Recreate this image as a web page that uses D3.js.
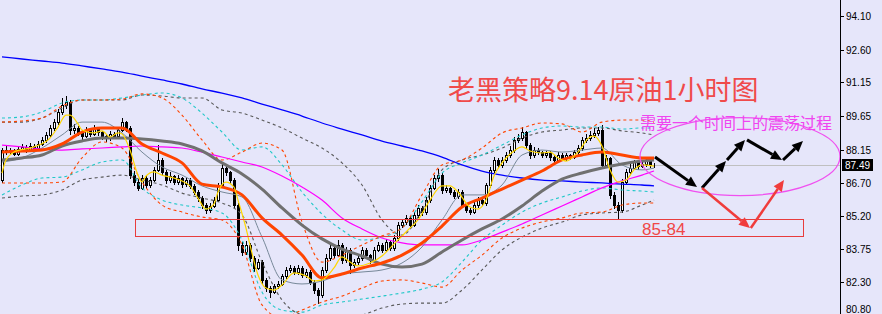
<!DOCTYPE html>
<html>
<head>
<meta charset="utf-8">
<script src="https://cdn.jsdelivr.net/npm/d3@7"></script>
<style>
  body { margin: 0; background: #e6e6fa; }
  svg { display: block; }
</style>
</head>
<body>
<div id="chart"></div>
<script>
// ---- price axis ----
const tickLabels = [94.10, 92.60, 91.15, 89.65, 88.15, 86.70, 85.20, 83.75, 82.30, 80.80];
const lastPrice = 87.49;

// ---- hourly candles [open, high, low, close] ----
const candles = [
  [86.81, 88.23, 86.72, 88.14], [88.14, 88.30, 87.96, 88.05], [88.05, 88.25, 87.98, 88.14], [88.14, 88.20, 87.90, 87.97],
  [87.97, 88.28, 87.92, 88.19], [88.19, 88.40, 88.12, 88.28], [88.28, 88.36, 88.05, 88.14], [88.14, 88.45, 88.10, 88.32],
  [88.32, 88.40, 88.15, 88.23], [88.23, 88.55, 88.18, 88.41], [88.41, 88.70, 88.36, 88.59], [88.59, 88.92, 88.50, 88.81],
  [88.81, 89.25, 88.75, 89.12], [89.12, 89.50, 89.02, 89.39], [89.39, 89.95, 89.30, 89.83], [89.83, 90.45, 89.75, 90.14],
  [90.14, 90.54, 90.02, 90.27], [90.27, 90.35, 88.86, 89.03], [89.03, 89.30, 88.90, 89.12], [89.12, 89.20, 88.80, 88.94],
  [88.94, 89.05, 88.65, 88.76], [88.76, 89.15, 88.70, 89.03], [89.03, 89.10, 88.75, 88.86], [88.86, 89.25, 88.80, 89.12],
  [89.12, 89.18, 88.82, 88.94], [88.94, 89.00, 88.62, 88.76], [88.76, 88.85, 88.55, 88.68], [88.68, 88.98, 88.60, 88.86],
  [88.86, 88.92, 88.66, 88.76], [88.76, 89.12, 88.70, 89.03], [89.03, 89.57, 88.98, 89.39], [89.39, 89.45, 89.00, 89.12],
  [89.12, 89.20, 86.90, 87.04], [87.04, 87.20, 86.60, 86.72], [86.72, 86.85, 86.35, 86.46], [86.46, 87.05, 86.40, 86.90],
  [86.90, 86.98, 86.45, 86.59], [86.59, 86.95, 86.50, 86.81], [86.81, 87.40, 86.75, 87.26], [87.26, 88.37, 87.20, 87.70],
  [87.70, 87.80, 87.05, 87.17], [87.17, 87.25, 86.70, 86.81], [86.81, 87.15, 86.72, 86.99], [86.99, 87.05, 86.62, 86.72],
  [86.72, 87.02, 86.65, 86.90], [86.90, 86.95, 86.52, 86.63], [86.63, 86.92, 86.55, 86.81], [86.81, 86.88, 86.45, 86.55],
  [86.55, 86.62, 86.18, 86.28], [86.28, 86.35, 85.90, 86.01], [86.01, 86.10, 85.58, 85.70], [85.70, 85.80, 85.35, 85.48],
  [85.48, 85.80, 85.40, 85.66], [85.66, 86.05, 85.60, 85.93], [85.93, 86.70, 85.88, 86.59], [86.59, 87.50, 86.50, 87.35],
  [87.35, 87.42, 87.02, 87.17], [87.17, 87.22, 86.70, 86.81], [86.81, 86.90, 85.60, 85.70], [85.70, 85.78, 83.71, 83.93],
  [83.93, 84.05, 83.50, 83.62], [83.62, 84.10, 83.55, 83.93], [83.93, 84.00, 83.22, 83.35], [83.35, 83.42, 82.78, 82.91],
  [82.91, 83.30, 82.85, 83.18], [83.18, 83.25, 82.25, 82.38], [82.38, 82.45, 81.90, 82.02], [82.02, 82.10, 81.62, 81.84],
  [81.84, 82.22, 81.78, 82.11], [82.11, 82.35, 82.02, 82.20], [82.20, 82.66, 82.15, 82.55], [82.55, 82.95, 82.48, 82.82],
  [82.82, 83.05, 82.75, 82.91], [82.91, 83.00, 82.62, 82.73], [82.73, 83.05, 82.66, 82.91], [82.91, 82.98, 82.50, 82.60],
  [82.60, 82.85, 82.52, 82.73], [82.73, 82.80, 82.18, 82.29], [82.29, 82.36, 81.80, 81.93], [81.93, 82.00, 81.35, 81.71],
  [81.71, 82.95, 81.62, 82.82], [82.82, 83.55, 82.75, 83.35], [83.35, 84.05, 83.28, 83.79], [83.79, 83.90, 83.38, 83.49],
  [83.49, 84.15, 83.42, 83.93], [83.93, 84.00, 83.12, 83.26], [83.26, 83.85, 83.18, 83.71], [83.71, 83.78, 82.70, 83.04],
  [83.04, 83.30, 82.95, 83.18], [83.18, 83.50, 83.10, 83.35], [83.35, 83.85, 83.28, 83.71], [83.71, 83.80, 83.40, 83.49],
  [83.49, 83.55, 83.15, 83.26], [83.26, 83.82, 83.20, 83.71], [83.71, 84.05, 83.65, 83.93], [83.93, 84.00, 83.60, 83.71],
  [83.71, 84.20, 83.65, 84.06], [84.06, 84.12, 83.70, 83.79], [83.79, 84.38, 83.72, 84.24], [84.24, 84.95, 84.15, 84.82],
  [84.82, 85.10, 84.72, 84.95], [84.95, 85.28, 84.88, 85.13], [85.13, 85.20, 84.70, 84.82], [84.82, 85.40, 84.75, 85.26],
  [85.26, 85.70, 85.18, 85.57], [85.57, 85.65, 85.28, 85.39], [85.39, 86.05, 85.32, 85.93], [85.93, 86.60, 85.85, 86.46],
  [86.46, 87.04, 86.40, 86.90], [86.90, 87.30, 86.75, 87.04], [87.04, 87.10, 86.25, 86.37], [86.37, 86.58, 86.30, 86.46],
  [86.46, 86.52, 86.18, 86.28], [86.28, 86.35, 86.00, 86.10], [86.10, 86.40, 86.02, 86.28], [86.28, 86.35, 85.60, 85.70],
  [85.70, 85.78, 85.38, 85.48], [85.48, 85.58, 85.30, 85.39], [85.39, 85.82, 85.33, 85.70], [85.70, 86.05, 85.62, 85.93],
  [85.93, 86.00, 85.70, 85.79], [85.79, 86.70, 85.72, 86.59], [86.59, 87.40, 86.52, 87.26], [87.26, 87.85, 87.18, 87.70],
  [87.70, 87.78, 87.38, 87.48], [87.48, 87.82, 87.40, 87.70], [87.70, 88.05, 87.62, 87.92], [87.92, 88.30, 87.85, 88.14],
  [88.14, 88.72, 88.05, 88.59], [88.59, 88.85, 88.50, 88.68], [88.68, 89.16, 88.60, 88.94], [88.94, 89.00, 88.25, 88.37],
  [88.37, 88.45, 87.80, 87.92], [87.92, 88.28, 87.85, 88.14], [88.14, 88.22, 87.95, 88.05], [88.05, 88.12, 87.82, 87.92],
  [87.92, 88.12, 87.85, 88.01], [88.01, 88.08, 87.72, 87.83], [87.83, 87.90, 87.58, 87.70], [87.70, 88.05, 87.62, 87.92],
  [87.92, 88.00, 87.70, 87.79], [87.79, 88.02, 87.72, 87.92], [87.92, 87.98, 87.74, 87.83], [87.83, 88.15, 87.78, 88.05],
  [88.05, 88.35, 87.98, 88.23], [88.23, 88.70, 88.15, 88.59], [88.59, 88.85, 88.50, 88.68], [88.68, 88.98, 88.60, 88.81],
  [88.81, 89.10, 88.72, 88.90], [88.90, 89.15, 88.80, 89.03], [89.03, 89.25, 87.38, 87.48], [87.48, 87.92, 87.40, 87.79],
  [87.79, 87.85, 86.00, 86.15], [86.15, 86.28, 85.55, 85.70], [85.70, 85.82, 85.13, 85.48], [85.48, 86.85, 85.40, 86.72],
  [86.72, 87.30, 86.65, 87.17], [87.17, 87.50, 87.10, 87.35], [87.35, 87.72, 87.28, 87.61], [87.61, 87.68, 87.32, 87.43],
  [87.43, 87.65, 87.38, 87.52], [87.52, 87.80, 87.45, 87.70], [87.70, 87.75, 87.40, 87.48], [87.48, 87.58, 87.40, 87.49]
];

// ---- indicator lines, read every 5 bars ----
const lineBars = [0, 5, 10, 15, 20, 25, 30, 35, 40, 45, 50, 55, 60, 65, 70, 75, 80, 85, 90, 95,
                  100, 105, 110, 115, 120, 125, 130, 135, 140, 145, 150, 155, 160, 163];
const maBlue = [92.27, 92.18, 92.09, 92.00, 91.87, 91.74, 91.60, 91.42, 91.25, 91.07, 90.85, 90.67, 90.45, 90.18, 89.92, 89.65, 89.34,
                89.07, 88.81, 88.54, 88.32, 88.10, 87.83, 87.48, 87.21, 87.03, 86.90, 86.81, 86.77, 86.72, 86.68, 86.63, 86.59, 86.55];
const maMagenta = [88.36, 88.28, 88.19, 88.14, 88.19, 88.23, 88.28, 88.32, 88.28, 88.23, 88.05, 87.83, 87.61, 87.39, 86.99, 86.50, 85.92,
                   85.13, 84.64, 84.24, 84.02, 83.93, 83.93, 83.93, 84.15, 84.50, 84.86, 85.26, 85.66, 86.06, 86.46, 86.77, 87.03, 87.21];
const maGray = [87.70, 87.79, 87.92, 88.32, 88.54, 88.67, 88.67, 88.63, 88.54, 88.41, 88.10, 87.57, 87.08, 86.41, 85.57, 84.81, 84.20,
                83.75, 83.44, 83.08, 82.95, 83.08, 83.62, 84.15, 84.64, 85.08, 85.66, 86.32, 86.85, 87.12, 87.34, 87.52, 87.65, 87.70];
const maOrange = [88.05, 88.10, 88.14, 88.41, 88.94, 89.12, 89.12, 88.41, 88.01, 87.57, 86.63, 86.50, 86.15, 85.13, 84.37, 83.48, 82.47,
                  82.64, 82.91, 83.13, 83.48, 84.02, 84.77, 85.61, 86.01, 86.41, 86.81, 87.21, 87.70, 87.92, 88.05, 87.92, 87.79, 87.79];
const maThin = [87.61, 87.79, 88.23, 88.81, 89.38, 89.38, 88.90, 88.05, 87.39, 87.03, 86.55, 86.28, 86.06, 84.28, 82.38, 82.20, 82.33,
                82.64, 82.73, 82.82, 83.13, 83.84, 85.04, 86.15, 86.15, 86.59, 87.92, 88.14, 88.05, 88.14, 88.23, 87.48, 87.26, 87.34];

// bands (upper / lower)
const bandOrangeUp = [89.38, 89.43, 89.56, 90.09, 90.36, 90.36, 90.40, 90.63, 90.45, 89.69, 88.59, 87.70, 88.05, 88.45, 88.14, 84.95, 83.17,
                      83.48, 83.93, 84.33, 84.68, 86.15, 87.48, 87.70, 88.23, 88.90, 89.12, 89.34, 89.30, 88.94, 89.38, 89.47, 89.47, 89.38];
const bandOrangeLo = [86.68, 86.68, 86.68, 86.72, 87.79, 88.50, 88.23, 86.72, 85.70, 85.39, 85.17, 85.04, 83.93, 81.27, 80.69, 81.04, 81.40,
                      81.66, 82.02, 82.33, 82.38, 82.24, 82.06, 82.82, 83.48, 84.24, 84.68, 84.95, 85.13, 85.35, 85.39, 85.70, 85.79, 85.79];
const bandCyanUp = [89.56, 89.61, 89.83, 90.23, 90.36, 90.36, 90.45, 90.58, 90.67, 90.45, 89.78, 88.94, 88.14, 88.28, 87.48, 86.28, 85.30,
                    84.59, 84.15, 84.28, 84.68, 85.84, 87.12, 87.57, 87.92, 88.36, 88.81, 89.12, 89.21, 89.16, 89.16, 89.07, 89.12, 89.12];
const bandCyanLo = [86.15, 86.59, 86.90, 86.94, 87.26, 87.61, 87.70, 86.46, 85.92, 85.70, 85.57, 85.35, 84.15, 81.84, 81.04, 80.95, 81.27,
                    81.40, 81.53, 81.66, 81.80, 81.97, 82.29, 83.17, 84.15, 84.81, 85.39, 85.79, 86.06, 86.32, 86.46, 86.37, 86.32, 86.28];
const bandGrayUp = [89.38, 89.38, 89.56, 90.00, 90.36, 90.36, 90.36, 90.58, 90.54, 90.45, 90.45, 89.92, 89.78, 89.47, 89.12, 88.67, 88.23,
                    87.57, 86.59, 85.04, 84.37, 85.48, 87.26, 87.70, 87.92, 88.23, 88.67, 88.94, 89.03, 89.12, 89.12, 88.99, 88.90, 88.81];
const bandGrayLo = [86.01, 86.10, 86.15, 86.37, 86.81, 86.94, 87.03, 86.81, 86.59, 86.23, 86.01, 85.79, 85.26, 83.17, 81.49, 80.82, 80.69,
                    80.69, 80.82, 81.13, 81.31, 81.35, 81.35, 81.93, 82.82, 83.71, 84.28, 84.68, 84.95, 85.26, 85.35, 85.39, 85.70, 85.92];

// fast yellow average, read at its turning points
const yellowBars = [0, 1, 3, 8, 12, 14, 16, 17, 19, 20, 23, 25, 27, 29, 30, 32, 34, 35, 36, 38, 40, 43, 45, 47, 49, 51, 53, 54, 56, 58,
                    59, 61, 62, 64, 66, 68, 70, 73, 76, 78, 80, 83, 85, 87, 89, 92, 95, 97, 99, 102, 104, 107, 110, 112, 114, 117, 119,
                    121, 123, 125, 128, 130, 132, 135, 137, 139, 141, 144, 147, 148, 150, 152, 154, 156, 158, 160, 163];
const yellowVals = [87.12, 87.70, 88.05, 88.28, 88.67, 89.16, 89.69, 89.69, 89.30, 89.03, 88.90, 88.99, 88.72, 88.90, 88.85, 88.14, 87.03,
                    86.72, 86.99, 87.17, 87.03, 86.90, 86.77, 86.55, 86.01, 85.52, 85.75, 86.28, 86.72, 86.50, 85.92, 84.68, 83.93, 82.60,
                    82.02, 81.93, 82.15, 82.69, 82.55, 82.33, 82.38, 82.91, 83.40, 83.17, 83.00, 83.13, 83.44, 83.79, 84.15, 84.68, 85.04,
                    85.92, 86.55, 86.55, 86.28, 85.61, 85.52, 85.92, 86.99, 87.57, 88.10, 88.28, 88.10, 88.01, 88.05, 87.79, 87.65, 88.05,
                    88.72, 88.76, 88.32, 87.26, 86.72, 86.81, 87.26, 87.48, 87.43];

// ---- hand drawn annotations (bar, price) ----
const zoneTop = 85.08, zoneBottom = 84.33, zoneBars = [33.25, 200.25];
const blackArrows = [
  [[163.25, 87.83], [173.75, 86.50]],
  [[175, 86.46], [181, 87.65]],
  [[181.25, 87.70], [185.75, 88.59]],
  [[186.25, 88.59], [195, 87.70]],
  [[195.25, 87.70], [200.25, 88.54]]
];
const redArrows = [
  [[175, 86.46], [187, 84.68]],
  [[187.2, 84.68], [195.5, 86.81]]
];
const ellipseCenter = [184.5, 87.85];

const W = 882, H = 314, plotRight = 840;

const svg = d3.select("#chart").append("svg")
  .attr("width", W).attr("height", H)
  .style("background", "#e6e6fa");

const x = d3.scaleLinear().domain([0, candles.length - 1]).range([2, 654]);
const y = d3.scaleLinear().domain([94.10, 82.30]).range([15.7, 281.7]);

svg.append("defs").append("clipPath").attr("id", "plot")
  .append("rect").attr("width", plotRight).attr("height", H);

const plot = svg.append("g").attr("clip-path", "url(#plot)");

// bid line
plot.append("line")
  .attr("x1", 0).attr("x2", plotRight)
  .attr("y1", Math.round(y(lastPrice)) + 0.5).attr("y2", Math.round(y(lastPrice)) + 0.5)
  .attr("stroke", "#c0c0c0");

// candles
const cg = plot.append("g").attr("shape-rendering", "crispEdges");
candles.forEach((d, i) => {
  const cx = Math.round(x(i));
  cg.append("line")
    .attr("x1", cx + 0.5).attr("x2", cx + 0.5)
    .attr("y1", Math.round(y(d[1]))).attr("y2", Math.round(y(d[2])) + 1)
    .attr("stroke", "#000");
});
candles.forEach((d, i) => {
  const cx = Math.round(x(i));
  const top = Math.round(y(Math.max(d[0], d[3])));
  const bot = Math.round(y(Math.min(d[0], d[3])));
  cg.append("rect")
    .attr("x", cx - 0.5).attr("width", 2)
    .attr("y", top + 0.5).attr("height", Math.max(0, bot - top))
    .attr("fill", d[3] >= d[0] ? "#fff" : "#000")
    .attr("stroke", "#000");
});

const line = d3.line()
  .x(d => x(d[0])).y(d => y(d[1]))
  .curve(d3.curveMonotoneX);

function series(vals, bars) {
  return (bars || lineBars).map((b, k) => [b, vals[k]]);
}

// dotted bands
const bands = [
  [bandGrayUp, "#5a5a5a"], [bandGrayLo, "#5a5a5a"],
  [bandCyanUp, "#20c8c8"], [bandCyanLo, "#20c8c8"],
  [bandOrangeUp, "#ff4500"], [bandOrangeLo, "#ff4500"]
];
bands.forEach(([vals, col]) => {
  plot.append("path")
    .attr("d", line(series(vals)))
    .attr("fill", "none").attr("stroke", col)
    .attr("stroke-width", 1.1).attr("stroke-dasharray", "3,3");
});

// moving averages
const mas = [
  [maBlue, "#0000ff", 1.3],
  [maMagenta, "#ff00ff", 1.2],
  [maThin, "#778899", 1],
  [maGray, "#707070", 3],
  [maOrange, "#ff4500", 3]
];
mas.forEach(([vals, col, w]) => {
  plot.append("path")
    .attr("d", line(series(vals)))
    .attr("fill", "none").attr("stroke", col).attr("stroke-width", w);
});
plot.append("path")
  .attr("d", line(series(yellowVals, yellowBars)))
  .attr("fill", "none").attr("stroke", "#ffd700").attr("stroke-width", 1.2);

// ---- annotations ----
const ann = svg.append("g");

const zx0 = Math.round(x(zoneBars[0])) + 0.5, zx1 = Math.round(x(zoneBars[1])) + 0.5;
const zy0 = Math.round(y(zoneTop)) + 0.5, zy1 = Math.round(y(zoneBottom)) + 0.5;
ann.append("path")
  .attr("d", `M${zx0},${zy0}H${zx1}V${zy1}H${zx0}Z`)
  .attr("fill", "none").attr("stroke", "#e83c3c").attr("stroke-width", 1)
  .attr("shape-rendering", "crispEdges");

ann.append("text")
  .attr("x", 642).attr("y", 235)
  .attr("font-family", "Liberation Sans, Arial, sans-serif").attr("font-size", 17)
  .attr("fill", "#f04848").text("85-84");

ann.append("ellipse")
  .attr("cx", x(ellipseCenter[0])).attr("cy", y(ellipseCenter[1]))
  .attr("rx", 100).attr("ry", 39)
  .attr("fill", "none").attr("stroke", "#f050f0").attr("stroke-width", 1.2);

function arrow(seg, col, w, head) {
  const [x1, y1] = [x(seg[0][0]), y(seg[0][1])];
  const [x2, y2] = [x(seg[1][0]), y(seg[1][1])];
  const a = Math.atan2(y2 - y1, x2 - x1);
  const bx = x2 - head * Math.cos(a), by = y2 - head * Math.sin(a);
  ann.append("line")
    .attr("x1", x1).attr("y1", y1).attr("x2", bx).attr("y2", by)
    .attr("stroke", col).attr("stroke-width", w);
  const hw = head * 0.45;
  const pts = [
    [x2, y2],
    [bx + hw * Math.sin(a), by - hw * Math.cos(a)],
    [bx - hw * Math.sin(a), by + hw * Math.cos(a)]
  ];
  ann.append("polygon").attr("points", pts.map(p => p.join(",")).join(" ")).attr("fill", col);
}
blackArrows.forEach(s => arrow(s, "#000", 3, 11));
redArrows.forEach(s => arrow(s, "#f03c3c", 2.5, 11));

ann.append("text")
  .attr("x", 448).attr("y", 100)
  .attr("font-family", "Noto Sans CJK SC, sans-serif").attr("font-size", 27)
  .attr("fill", "#f04a4a").text("老黑策略9.14原油1小时图");

ann.append("text")
  .attr("x", 640).attr("y", 129)
  .attr("font-family", "Noto Sans CJK SC, sans-serif").attr("font-size", 16)
  .attr("fill", "#f044f0").text("需要一个时间上的震荡过程");

// ---- right price axis ----
const ax = svg.append("g").attr("shape-rendering", "crispEdges");
ax.append("line")
  .attr("x1", plotRight + 0.5).attr("x2", plotRight + 0.5)
  .attr("y1", 0).attr("y2", H).attr("stroke", "#000");
tickLabels.forEach(t => {
  const ty = Math.round(y(t)) + 0.5;
  ax.append("line").attr("x1", plotRight).attr("x2", plotRight + 4)
    .attr("y1", ty).attr("y2", ty).attr("stroke", "#000");
  svg.append("text")
    .attr("x", plotRight + 6).attr("y", Math.min(ty, H - 5)).attr("dy", "0.35em")
    .attr("font-family", "Liberation Sans, Arial, sans-serif").attr("font-size", 10)
    .attr("fill", "#000").text(t.toFixed(2));
});
const ly = Math.round(y(lastPrice));
svg.append("rect")
  .attr("x", plotRight + 2).attr("y", ly - 6).attr("width", 31).attr("height", 12)
  .attr("fill", "#000");
svg.append("text")
  .attr("x", plotRight + 5).attr("y", ly).attr("dy", "0.35em")
  .attr("font-family", "Liberation Sans, Arial, sans-serif").attr("font-size", 10)
  .attr("fill", "#fff").text(lastPrice.toFixed(2));
</script>
</body>
</html>
